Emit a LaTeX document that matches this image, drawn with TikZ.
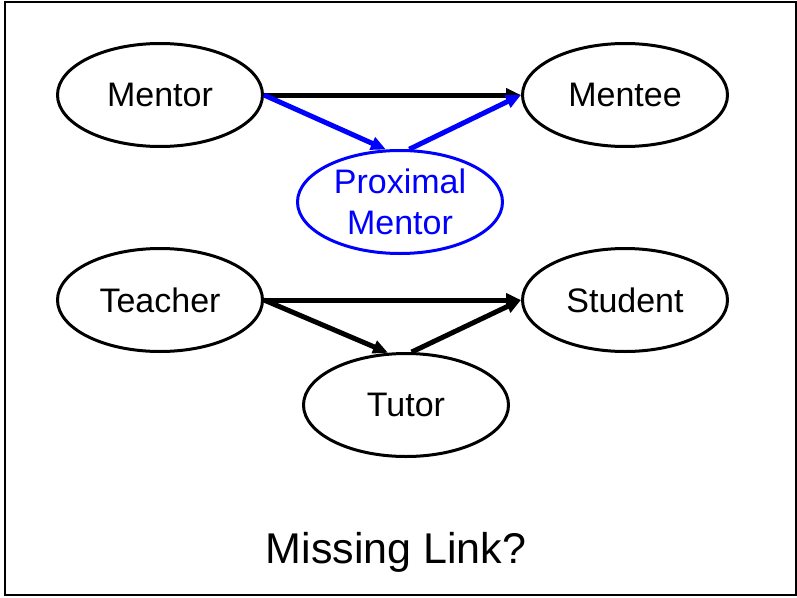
\documentclass[tikz,border=0pt]{standalone}
\usepackage{fontspec}
\setmainfont{Liberation Sans}
\usetikzlibrary{shapes.geometric,arrows.meta}
\begin{document}
\begin{tikzpicture}[x=1pt,y=-1pt,
  oval/.style={ellipse,draw=black,line width=3pt,minimum width=205pt,minimum height=103pt,inner sep=0pt,
    font=\fontsize{34}{41}\selectfont,align=center},
  blueoval/.style={oval,draw=blue,text=blue},
  link/.style={line width=5pt,-{Triangle[length=15pt,width=13pt]}},
  bluelink/.style={link,draw=blue,fill=blue}
]
\useasboundingbox (0,0) rectangle (797,597);
\draw[line width=2pt] (5,2) rectangle (796,595);
\node[oval] (mentor) at (160,95) {Mentor};
\node[oval] (mentee) at (625,95) {Mentee};
\node[blueoval] (prox) at (400,202) {Proximal\\Mentor};
\node[oval] (teacher) at (160,300) {Teacher};
\node[oval] (student) at (625,300) {Student};
\node[oval] (tutor) at (406,405) {Tutor};
\node[font=\fontsize{43}{50}\selectfont] (missing) at (396,552) {Missing Link?};
\draw[link] (mentor.east) -- (mentee.west);
\draw[bluelink] (mentor.east) -- (prox.105);
\draw[bluelink] (prox.80) -- (mentee.west);
\draw[link] (teacher.east) -- (student.west);
\draw[link] (teacher.east) -- (tutor.109);
\draw[link] (tutor.84) -- (student.west);
\end{tikzpicture}
\end{document}
